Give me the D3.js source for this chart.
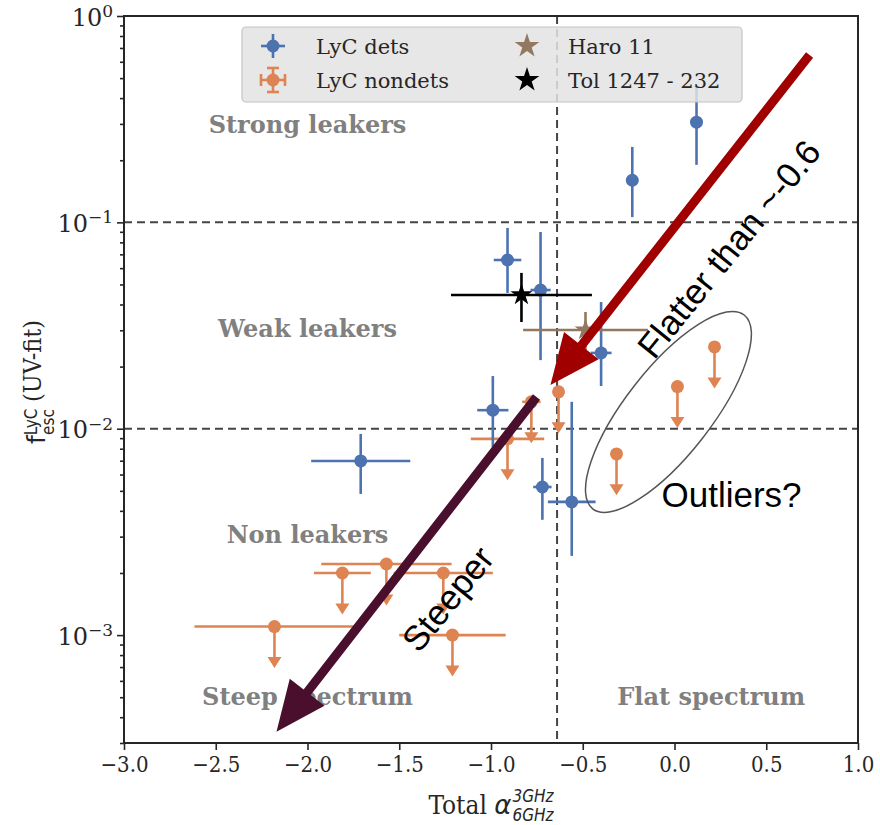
<!DOCTYPE html>
<html>
<head>
<meta charset="utf-8">
<script src="https://cdn.jsdelivr.net/npm/d3@7"></script>
<style>
  body { margin: 0; background: #fff; }
  svg text { font-family: "DejaVu Serif Condensed", "DejaVu Serif", serif; }
</style>
</head>
<body>
<div id="container"></div>
<script>
const margin = {top: 16, right: 22, bottom: 82, left: 124};
const W = 880, H = 825;
const width = W - margin.left - margin.right;
const height = H - margin.top - margin.bottom;

// LyC detections
const detAlpha    = [0.12, -0.23, -0.91, -0.73, -0.40, -0.99, -1.71, -0.72, -0.56];
const detAlphaErr = [0.03, 0.03, 0.075, 0.055, 0.057, 0.085, 0.27, 0.05, 0.13];
const detF        = [0.306, 0.160, 0.0657, 0.047, 0.0233, 0.0123, 0.00698, 0.00522, 0.00442];
const detFlo      = [0.19, 0.106, 0.0455, 0.0215, 0.0161, 0.00816, 0.00483, 0.00362, 0.00242];
const detFhi      = [0.453, 0.232, 0.094, 0.0898, 0.0411, 0.018, 0.00944, 0.00722, 0.0135];

// LyC non-detections (upper limits)
const ndAlpha    = [-0.632, -0.78, -0.91, 0.218, 0.016, -0.316, -1.57, -1.81, -1.26, -2.18, -1.21];
const ndAlphaErr = [0, 0.05, 0.2, 0, 0, 0, 0.355, 0.155, 0.27, 0.436, 0.29];
const ndF        = [0.0151, 0.0135, 0.00893, 0.0249, 0.0160, 0.00755, 0.00221, 0.0020, 0.0020, 0.0011, 0.0010];

// local analogues
const starNames   = ["Haro 11", "Tol 1247 - 232"];
const starAlpha   = [-0.485, -0.834];
const starAlphaErr= [0.34, 0.384];
const starF       = [0.0301, 0.0445];
const starFlo     = [0.0234, 0.0329];
const starFhi     = [0.0368, 0.0569];

const xTicks = [-3.0, -2.5, -2.0, -1.5, -1.0, -0.5, 0.0, 0.5, 1.0];
const yMajor = [1e-3, 1e-2, 1e-1, 1];
const alphaCut = -0.64;
const fCuts = [0.1, 0.01];

const regions = [
  {t: "Strong leakers", x: -2.0, y: 0.30},
  {t: "Weak leakers",   x: -2.0, y: 0.0305},
  {t: "Non leakers",    x: -2.0, y: 0.00306},
  {t: "Steep spectrum", x: -2.0, y: 0.000507},
  {t: "Flat spectrum",  x: 0.2,  y: 0.000507}
];

const blue = "#4c72b0", orange = "#dd8452", brown = "#937860";

const svg = d3.select("#container").append("svg")
  .attr("width", W).attr("height", H);
const g = svg.append("g").attr("transform", `translate(${margin.left},${margin.top})`);

const x = d3.scaleLinear().domain([-3, 1]).range([0, width]);
const y = d3.scaleLog().domain([3e-4, 1]).range([height, 0]);

/* dashed dividers */
fCuts.forEach(v => {
  g.append("line").attr("x1", 0).attr("x2", width)
    .attr("y1", y(v)).attr("y2", y(v))
    .attr("stroke", "#444").attr("stroke-width", 2).attr("stroke-dasharray", "8,5");
});
g.append("line").attr("x1", x(alphaCut)).attr("x2", x(alphaCut))
  .attr("y1", 0).attr("y2", height)
  .attr("stroke", "#444").attr("stroke-width", 2).attr("stroke-dasharray", "8,5");

/* region labels */
regions.forEach(r => {
  g.append("text").attr("x", x(r.x)).attr("y", y(r.y)).attr("dy", "0.36em")
    .attr("text-anchor", "middle")
    .style("font-family", "'DejaVu Serif', serif").style("font-weight", "bold")
    .style("font-size", "24px").style("fill", "#808080")
    .text(r.t);
});

const lw = 2.6;

/* non-detections */
ndAlpha.forEach((a, i) => {
  const cx = x(a), cy = y(ndF[i]);
  if (ndAlphaErr[i] > 0) {
    g.append("line").attr("x1", x(a - ndAlphaErr[i])).attr("x2", x(a + ndAlphaErr[i]))
      .attr("y1", cy).attr("y2", cy).attr("stroke", orange).attr("stroke-width", lw);
  }
  const tip = y(ndF[i] * 0.63);
  g.append("line").attr("x1", cx).attr("x2", cx).attr("y1", cy).attr("y2", tip - 6)
    .attr("stroke", orange).attr("stroke-width", lw);
  g.append("path").attr("d", `M${cx - 7},${tip - 11}L${cx + 7},${tip - 11}L${cx},${tip}Z`)
    .attr("fill", orange);
  g.append("circle").attr("cx", cx).attr("cy", cy).attr("r", 6.5).attr("fill", orange);
});

/* detections */
detAlpha.forEach((a, i) => {
  const cx = x(a), cy = y(detF[i]);
  g.append("line").attr("x1", x(a - detAlphaErr[i])).attr("x2", x(a + detAlphaErr[i]))
    .attr("y1", cy).attr("y2", cy).attr("stroke", blue).attr("stroke-width", lw);
  g.append("line").attr("x1", cx).attr("x2", cx).attr("y1", y(detFlo[i])).attr("y2", y(detFhi[i]))
    .attr("stroke", blue).attr("stroke-width", lw);
  g.append("circle").attr("cx", cx).attr("cy", cy).attr("r", 6.5).attr("fill", blue);
});

/* stars */
const star = d3.symbol().type(d3.symbolStar).size(150);
const starCols = [brown, "#000"];
starAlpha.forEach((a, i) => {
  const cx = x(a), cy = y(starF[i]);
  g.append("line").attr("x1", x(a - starAlphaErr[i])).attr("x2", x(a + starAlphaErr[i]))
    .attr("y1", cy).attr("y2", cy).attr("stroke", starCols[i]).attr("stroke-width", lw);
  g.append("line").attr("x1", cx).attr("x2", cx).attr("y1", y(starFlo[i])).attr("y2", y(starFhi[i]))
    .attr("stroke", starCols[i]).attr("stroke-width", lw);
  g.append("path").attr("d", star()).attr("transform", `translate(${cx},${cy})`)
    .attr("fill", starCols[i]);
});

/* axes */
const xAxis = g.append("g").attr("transform", `translate(0,${height})`)
  .call(d3.axisBottom(x).tickValues(xTicks).tickFormat(d3.format(".1f")).tickSize(7).tickPadding(6));
const minor = [];
[-4, -3, -2, -1].forEach(e => { for (let k = 2; k < 10; k++) { const v = k * Math.pow(10, e); if (v >= 3e-4 && v < 1) minor.push(v); } });
const yAxisMinor = g.append("g").call(d3.axisLeft(y).tickValues(minor).tickFormat("").tickSize(4));
const yAxis = g.append("g").call(d3.axisLeft(y).tickValues(yMajor).tickFormat("").tickSize(7));
[xAxis, yAxisMinor, yAxis].forEach(a => {
  a.select(".domain").remove();
  a.selectAll(".tick line").attr("stroke", "#262626").attr("stroke-width", 1.6);
  a.selectAll("text").attr("font-size", null).style("font-size", "22px").style("fill", "#262626")
    .style("font-family", "'DejaVu Serif Condensed','DejaVu Serif',serif");
});
yMajor.forEach(v => {
  const e = Math.round(Math.log10(v));
  const t = g.append("text").attr("x", -11).attr("y", y(v)).attr("dy", "0.4em")
    .attr("text-anchor", "end").style("font-size", "24px").style("fill", "#262626")
    .style("font-family", "'DejaVu Serif',serif");
  t.append("tspan").text("10");
  t.append("tspan").attr("dy", "-0.5em").style("font-size", "17px").text(e === 0 ? "0" : "\u2212" + (-e));
});

/* frame */
g.append("rect").attr("width", width).attr("height", height)
  .attr("fill", "none").attr("stroke", "#262626").attr("stroke-width", 2);

/* axis labels */
const xl = svg.append("g");
const xlMain = xl.append("text").attr("y", 814).style("font-size", "26px").style("fill", "#262626");
xlMain.append("tspan").text("Total ");
xlMain.append("tspan").style("font-family", "'DejaVu Sans',sans-serif").style("font-style", "italic").text("α");
const mw = xlMain.node().getComputedTextLength();
const sup = xl.append("text").attr("x", mw + 1).attr("y", 802).style("font-size", "17px")
  .style("font-family", "'DejaVu Sans Condensed','DejaVu Sans',sans-serif").style("font-style", "italic").style("fill", "#262626").text("3GHz");
const sub = xl.append("text").attr("x", mw + 1).attr("y", 821).style("font-size", "17px")
  .style("font-family", "'DejaVu Sans Condensed','DejaVu Sans',sans-serif").style("font-style", "italic").style("fill", "#262626").text("6GHz");
const tw = mw + 1 + Math.max(sup.node().getComputedTextLength(), sub.node().getComputedTextLength());
xl.attr("transform", `translate(${margin.left + width / 2 - tw / 2},0)`);

const yl = svg.append("g").attr("transform", "translate(45,382) rotate(-90)");
const ylT = yl.append("text").attr("text-anchor", "middle").style("font-size", "25px").style("fill", "#262626");
ylT.append("tspan").style("font-family", "'DejaVu Sans',sans-serif").text("f");
ylT.append("tspan").attr("dy", "-0.45em").style("font-size", "17px").style("font-family", "'DejaVu Sans Condensed','DejaVu Sans',sans-serif").text("LyC");
ylT.append("tspan").attr("dx", "-1.55em").attr("dy", "0.95em").style("font-size", "17px").style("font-family", "'DejaVu Sans Condensed','DejaVu Sans',sans-serif").text("esc");
ylT.append("tspan").attr("dy", "-0.5em").text(" (UV-fit)");

/* legend */
const leg = svg.append("g");
leg.append("rect").attr("x", 242).attr("y", 27).attr("width", 500).attr("height", 75).attr("rx", 4)
  .attr("fill", "#e3e3e3").attr("fill-opacity", 0.85).attr("stroke", "#c4c4c4").attr("stroke-width", 1.2);
const legTxt = (tx, ty, s) => leg.append("text").attr("x", tx).attr("y", ty)
  .style("font-family", "'DejaVu Serif',serif").style("font-size", "21px").style("fill", "#262626").text(s);
// det symbol
leg.append("line").attr("x1", 261).attr("x2", 285).attr("y1", 46).attr("y2", 46).attr("stroke", blue).attr("stroke-width", lw);
leg.append("line").attr("x1", 273).attr("x2", 273).attr("y1", 34).attr("y2", 58).attr("stroke", blue).attr("stroke-width", lw);
leg.append("circle").attr("cx", 273).attr("cy", 46).attr("r", 6.5).attr("fill", blue);
legTxt(316, 54, "LyC dets");
// nondet symbol
leg.append("line").attr("x1", 261).attr("x2", 285).attr("y1", 80).attr("y2", 80).attr("stroke", orange).attr("stroke-width", lw);
leg.append("line").attr("x1", 273).attr("x2", 273).attr("y1", 68).attr("y2", 92).attr("stroke", orange).attr("stroke-width", lw);
[[261, 74, 261, 86], [285, 74, 285, 86], [267, 68, 279, 68], [267, 92, 279, 92]].forEach(c =>
  leg.append("line").attr("x1", c[0]).attr("y1", c[1]).attr("x2", c[2]).attr("y2", c[3]).attr("stroke", orange).attr("stroke-width", lw));
leg.append("circle").attr("cx", 273).attr("cy", 80).attr("r", 6.5).attr("fill", orange);
legTxt(316, 88, "LyC nondets");
// stars
const legStar = d3.symbol().type(d3.symbolStar).size(190);
[[46, brown], [80, "#000"]].forEach((s, i) => {
  leg.append("path").attr("d", legStar()).attr("transform", `translate(527,${s[0]})`).attr("fill", s[1]);
  legTxt(568, s[0] + 8, starNames[i]);
});

/* annotations */
const ann = svg.append("g").attr("transform", `translate(${margin.left},${margin.top})`);
function bigArrow(p0, p1, col) {
  const [x0, y0] = [x(p0[0]), y(p0[1])], [x1, y1] = [x(p1[0]), y(p1[1])];
  const dx = x1 - x0, dy = y1 - y0, L = Math.hypot(dx, dy);
  const ux = dx / L, uy = dy / L, nx = -uy, ny = ux;
  const sw = 4.5, hw = 22, hl = 50;
  const bx = x1 - ux * hl, by = y1 - uy * hl;
  const pts = [
    [x0 + nx * sw, y0 + ny * sw], [bx + nx * sw, by + ny * sw], [bx + nx * hw, by + ny * hw],
    [x1, y1], [bx - nx * hw, by - ny * hw], [bx - nx * sw, by - ny * sw], [x0 - nx * sw, y0 - ny * sw]
  ];
  ann.append("path").attr("d", "M" + pts.map(p => p.join(",")).join("L") + "Z").attr("fill", col);
}
bigArrow([0.736, 0.647], [-0.676, 0.0163], "#a00000");
bigArrow([-0.752, 0.01426], [-2.169, 3.4e-4], "#4b0f2e");

ann.append("ellipse").attr("cx", x(-0.033)).attr("cy", y(0.01206)).attr("rx", 123).attr("ry", 43)
  .attr("transform", `rotate(-52,${x(-0.033)},${y(0.01206)})`)
  .attr("fill", "none").attr("stroke", "#555").attr("stroke-width", 1.5);

const annTxt = (tx, ty, ang, s, anchor) => ann.append("text")
  .attr("transform", `translate(${tx},${ty}) rotate(${ang})`)
  .attr("text-anchor", anchor).attr("dy", ang ? "0.36em" : 0)
  .style("font-family", "'Liberation Sans', Arial, sans-serif").style("font-size", "35px").style("fill", "#000")
  .text(s);
annTxt(x(0.295), y(0.0745), -51, "Flatter than ~-0.6", "middle");
annTxt(x(-1.237), y(0.0015), -51, "Steeper", "middle");
annTxt(x(-0.071), y(0.00418), 0, "Outliers?", "start");
</script>
</body>
</html>
